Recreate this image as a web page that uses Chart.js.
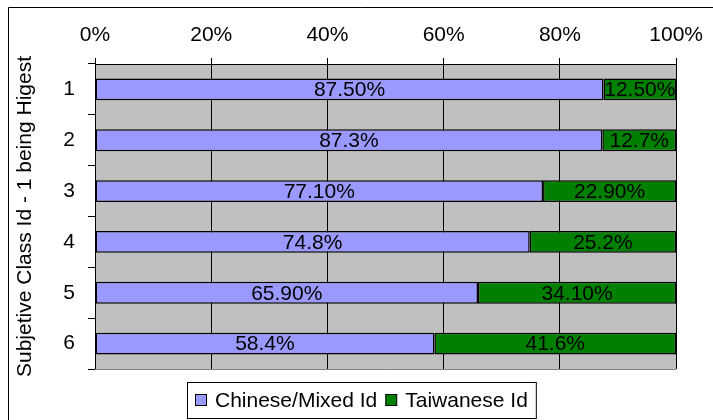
<!DOCTYPE html>
<html><head><meta charset="utf-8">
<script src="https://cdn.jsdelivr.net/npm/chart.js@4/dist/chart.umd.min.js"></script>
<style>html,body{margin:0;padding:0;background:#fff}canvas{display:block}</style>
</head><body>
<canvas id="c" width="713" height="420"></canvas>
<script>
const categories = ['1', '2', '3', '4', '5', '6'];
const chineseMixed = [87.5, 87.3, 77.1, 74.8, 65.9, 58.4];
const taiwanese = [12.5, 12.7, 22.9, 25.2, 34.1, 41.6];
const chineseLabels = ['87.50%', '87.3%', '77.10%', '74.8%', '65.90%', '58.4%'];
const taiwaneseLabels = ['12.50%', '12.7%', '22.90%', '25.2%', '34.10%', '41.6%'];
const seriesNames = ['Chinese/Mixed Id', 'Taiwanese Id'];
const axisTitle = 'Subjetive Class Id - 1 being Higest';

const FONT = 'Liberation Sans, Arial, sans-serif';
const colors = ['#9999ff', '#008000'];

const bgPlugin = {
  id: 'bg',
  beforeDraw(chart) {
    const {ctx, chartArea: a} = chart;
    ctx.save();
    ctx.fillStyle = '#ffffff';
    ctx.fillRect(0, 0, chart.width, chart.height);
    ctx.fillStyle = '#c0c0c0';
    ctx.fillRect(a.left, a.top, a.right - a.left, a.bottom - a.top);
    ctx.restore();
  },
  afterDraw(chart) {
    const {ctx, chartArea: a} = chart;
    ctx.save();
    // plot bottom edge
    ctx.strokeStyle = '#808080';
    ctx.lineWidth = 1;
    ctx.beginPath();
    ctx.moveTo(a.left, a.bottom + 0.5);
    ctx.lineTo(a.right, a.bottom + 0.5);
    ctx.stroke();
    // outer chart border (cropped)
    ctx.strokeStyle = '#000';
    ctx.beginPath();
    ctx.moveTo(8.5, chart.height + 2);
    ctx.lineTo(8.5, 7.5);
    ctx.lineTo(chart.width + 2, 7.5);
    ctx.stroke();
    // legend
    ctx.font = '21px ' + FONT;
    ctx.textBaseline = 'middle';
    ctx.textAlign = 'left';
    const lx = 187, ly = 382, lh = 36, cy = ly + lh / 2;
    let x = lx + 8;
    const items = chart.data.datasets.map((d, i) => ({text: d.label, color: d.backgroundColor}));
    const parts = [];
    items.forEach((it, i) => {
      parts.push({sq: x, color: it.color});
      x += 11 + 9;
      parts.push({tx: x, text: it.text});
      x += ctx.measureText(it.text).width + 8;
    });
    const lw = x - lx;
    ctx.fillStyle = '#fff';
    ctx.fillRect(lx, ly, lw, lh);
    ctx.strokeStyle = '#000';
    ctx.strokeRect(lx + 0.5, ly + 0.5, lw, lh);
    parts.forEach(p => {
      if (p.sq !== undefined) {
        ctx.fillStyle = p.color;
        ctx.fillRect(p.sq + 0.5, cy - 5.5, 11, 11);
        ctx.strokeStyle = '#000';
        ctx.strokeRect(p.sq + 0.5, cy - 5.5, 11, 11);
      } else {
        ctx.fillStyle = '#000';
        ctx.fillText(p.text, p.tx, cy + 1);
      }
    });
    ctx.restore();
  }
};

const labelPlugin = {
  id: 'barLabels',
  afterDatasetsDraw(chart) {
    const {ctx} = chart;
    const labelSets = [chineseLabels, taiwaneseLabels];
    ctx.save();
    ctx.font = '21px ' + FONT;
    ctx.fillStyle = '#000';
    ctx.textAlign = 'center';
    ctx.textBaseline = 'middle';
    chart.data.datasets.forEach((ds, di) => {
      const meta = chart.getDatasetMeta(di);
      meta.data.forEach((el, i) => {
        const p = el.getProps(['x', 'y', 'base'], true);
        ctx.fillText(labelSets[di][i], (p.x + p.base) / 2, p.y + 1);
      });
    });
    ctx.restore();
  }
};

new Chart(document.getElementById('c'), {
  type: 'bar',
  data: {
    labels: categories,
    datasets: [
      {label: seriesNames[0], data: chineseMixed, backgroundColor: colors[0], borderColor: '#000', borderWidth: 1.5, borderSkipped: false},
      {label: seriesNames[1], data: taiwanese, backgroundColor: colors[1], borderColor: '#000', borderWidth: 1.5, borderSkipped: false}
    ]
  },
  options: {
    indexAxis: 'y',
    responsive: false,
    animation: false,
    devicePixelRatio: 1,
    datasets: {bar: {barPercentage: 0.43, categoryPercentage: 1}},
    layout: {padding: {left: 8, top: 10, right: 35, bottom: 51}},
    plugins: {legend: {display: false}, tooltip: {enabled: false}},
    scales: {
      x: {
        position: 'top',
        stacked: true,
        min: 0, max: 100,
        ticks: {stepSize: 20, callback: v => v + '%', color: '#000', font: {family: FONT, size: 21}, padding: 10},
        grid: {color: '#000', lineWidth: 1, tickLength: 6, drawTicks: true},
        border: {color: '#000'},
        afterFit(s) { s.height = 54; }
      },
      y: {
        stacked: true,
        ticks: {color: '#000', font: {family: FONT, size: 21}, padding: 13},
        grid: {drawOnChartArea: false, offset: true, tickLength: 7, color: '#000'},
        border: {color: '#000'},
        title: {display: true, text: axisTitle, color: '#000', font: {family: FONT, size: 21}, padding: {top: 5, bottom: 0}},
        afterFit(s) { s.width = 87; }
      }
    }
  },
  plugins: [bgPlugin, labelPlugin]
});
</script>
</body></html>
